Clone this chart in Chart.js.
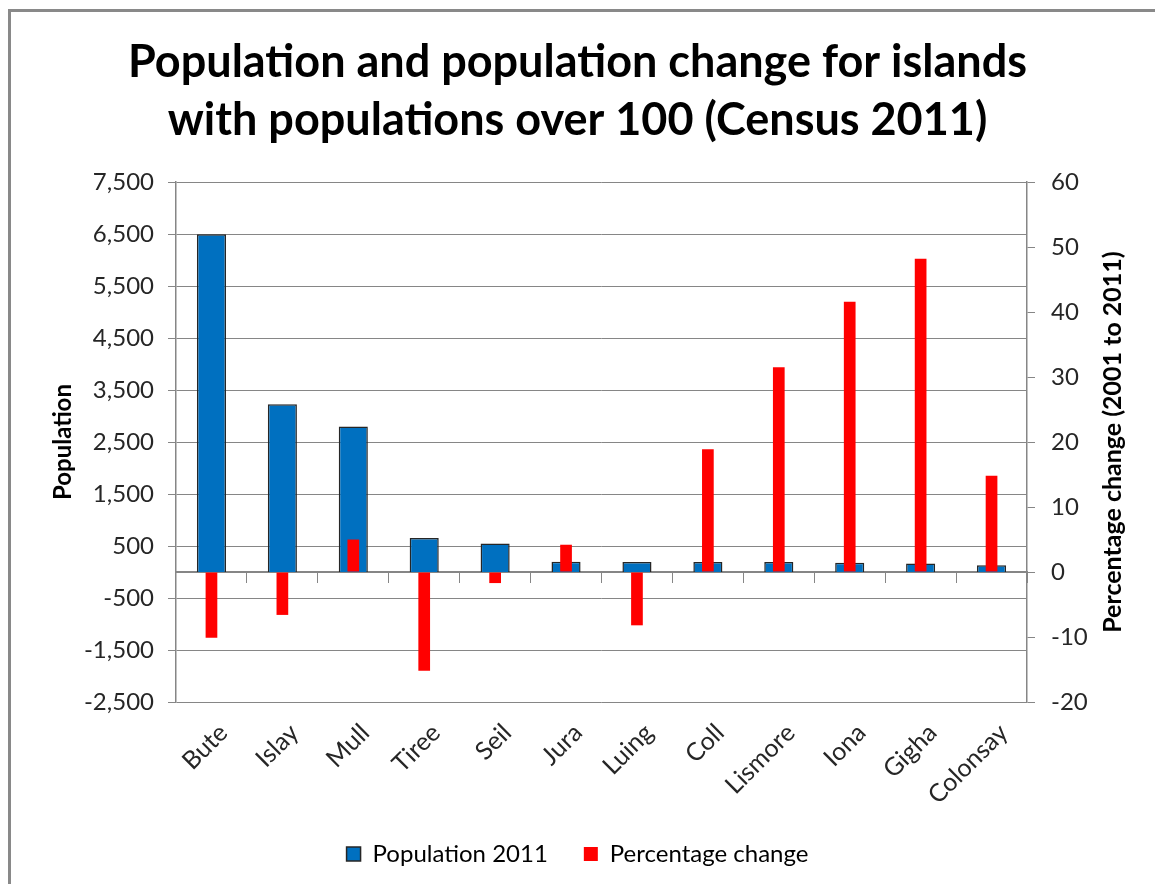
<!DOCTYPE html>
<html>
<head>
<meta charset="utf-8">
<script src="https://cdn.jsdelivr.net/npm/chart.js@4"></script>
<style>
  body { margin: 0; background: #fff; }
  #wrap { position: relative; width: 1155px; height: 884px; overflow: hidden; }
  #frame { position: absolute; left: 8px; top: 9px; width: 2000px; height: 2000px;
           border-top: 3px solid #898989; border-left: 3px solid #898989; }
  #chart { position: absolute; left: 0; top: 0; }
</style>
</head>
<body>
<div id="wrap">
  <div id="frame"></div>
  <canvas id="chart" width="1155" height="884"></canvas>
</div>
<script>
const islands = ['Bute', 'Islay', 'Mull', 'Tiree', 'Seil', 'Jura', 'Luing', 'Coll', 'Lismore', 'Iona', 'Gigha', 'Colonsay'];
const population2011 = [6498, 3228, 2800, 653, 551, 196, 195, 195, 192, 177, 163, 132];
const percentChange = [-10.1, -6.6, 5.0, -15.2, -1.7, 4.2, -8.2, 18.9, 31.5, 41.6, 48.2, 14.8];
const popTicks = [-2500, -1500, -500, 500, 1500, 2500, 3500, 4500, 5500, 6500, 7500];
const pctTicks = [-20, -10, 0, 10, 20, 30, 40, 50, 60];

const ctx = document.getElementById('chart');
const font = 'Lato, "Open Sans", sans-serif';
const grey = '#868686';

// right axis title reads bottom-to-top in the original, chart.js turns it the other way
const rightTitle = {
  id: 'rightTitle',
  afterDraw(chart) {
    const s = chart.scales.y1;
    const area = chart.chartArea;
    const c = chart.ctx;
    c.save();
    c.translate(s.right - 30, (area.top + area.bottom) / 2);
    c.rotate(-Math.PI / 2);
    c.font = 'bold 25px ' + font;
    c.fillStyle = '#000';
    c.textAlign = 'center';
    c.textBaseline = 'middle';
    c.fillText('Percentage change (2001 to 2011)', 0, 0);
    c.restore();
  }
};

new Chart(ctx, {
  type: 'bar',
  data: {
    labels: islands,
    datasets: [{
      label: 'Population 2011',
      data: population2011,
      yAxisID: 'y',
      backgroundColor: '#0070c0',
      borderColor: '#262626',
      borderWidth: 1.5,
      grouped: false,
      categoryPercentage: 1,
      barPercentage: 0.41,
      order: 1
    }, {
      label: 'Percentage change',
      data: percentChange,
      yAxisID: 'y1',
      backgroundColor: '#ff0000',
      borderWidth: 0,
      grouped: false,
      categoryPercentage: 1,
      barPercentage: 0.165,
      order: 0
    }]
  },
  options: {
    responsive: false,
    animation: false,
    layout: { padding: { left: 12, right: 12, top: 12, bottom: 8 } },
    plugins: {
      title: {
        display: true,
        text: ['Population and population change for islands', 'with populations over 100 (Census 2011)'],
        color: '#000',
        font: { family: font, size: 45, weight: 'bold', lineHeight: 1.29 },
        padding: { top: 21, bottom: 33 }
      },
      legend: {
        position: 'bottom',
        labels: {
          color: '#000',
          font: { family: font, size: 24 },
          boxWidth: 14,
          boxHeight: 14,
          padding: 36,
          sort: (a, b) => a.datasetIndex - b.datasetIndex
        }
      },
      tooltip: { enabled: false }
    },
    scales: {
      x: {
        position: 'bottom',
        offset: true,
        afterFit: (s) => { s.height = 104; },
        grid: { display: false },
        border: { display: false },
        ticks: {
          color: '#262626',
          font: { family: font, size: 25 },
          minRotation: 45,
          maxRotation: 45,
          labelOffset: 12,
          padding: 8
        }
      },
      x0: {
        type: 'category',
        position: { y: 0 },
        offset: true,
        grid: { drawOnChartArea: false, offset: true, tickLength: 10, color: grey },
        border: { color: grey, width: 2 },
        ticks: { display: false }
      },
      y: {
        position: 'left',
        min: -2500,
        max: 7500,
        afterBuildTicks: (s) => { s.ticks = popTicks.map(v => ({ value: v })); },
        afterFit: (s) => { s.width = 176 - 12; },
        grid: { color: grey, tickLength: 8 },
        border: { color: grey, width: 1.5 },
        ticks: {
          color: '#262626',
          font: { family: font, size: 24 },
          padding: 14,
          callback: (v) => v.toLocaleString('en-US')
        },
        title: {
          display: true,
          text: 'Population',
          color: '#000',
          font: { family: font, size: 24, weight: 'bold' },
          padding: { top: 37, bottom: 0 }
        }
      },
      y1: {
        position: 'right',
        min: -20,
        max: 60,
        afterBuildTicks: (s) => { s.ticks = pctTicks.map(v => ({ value: v })); },
        afterFit: (s) => { s.width = 1155 - 12 - 1027; },
        grid: { drawOnChartArea: false, color: grey, tickLength: 8 },
        border: { color: grey, width: 1.5 },
        ticks: {
          color: '#262626',
          font: { family: font, size: 24 },
          padding: 16
        }
      }
    }
  },
  plugins: [rightTitle]
});
</script>
</body>
</html>
